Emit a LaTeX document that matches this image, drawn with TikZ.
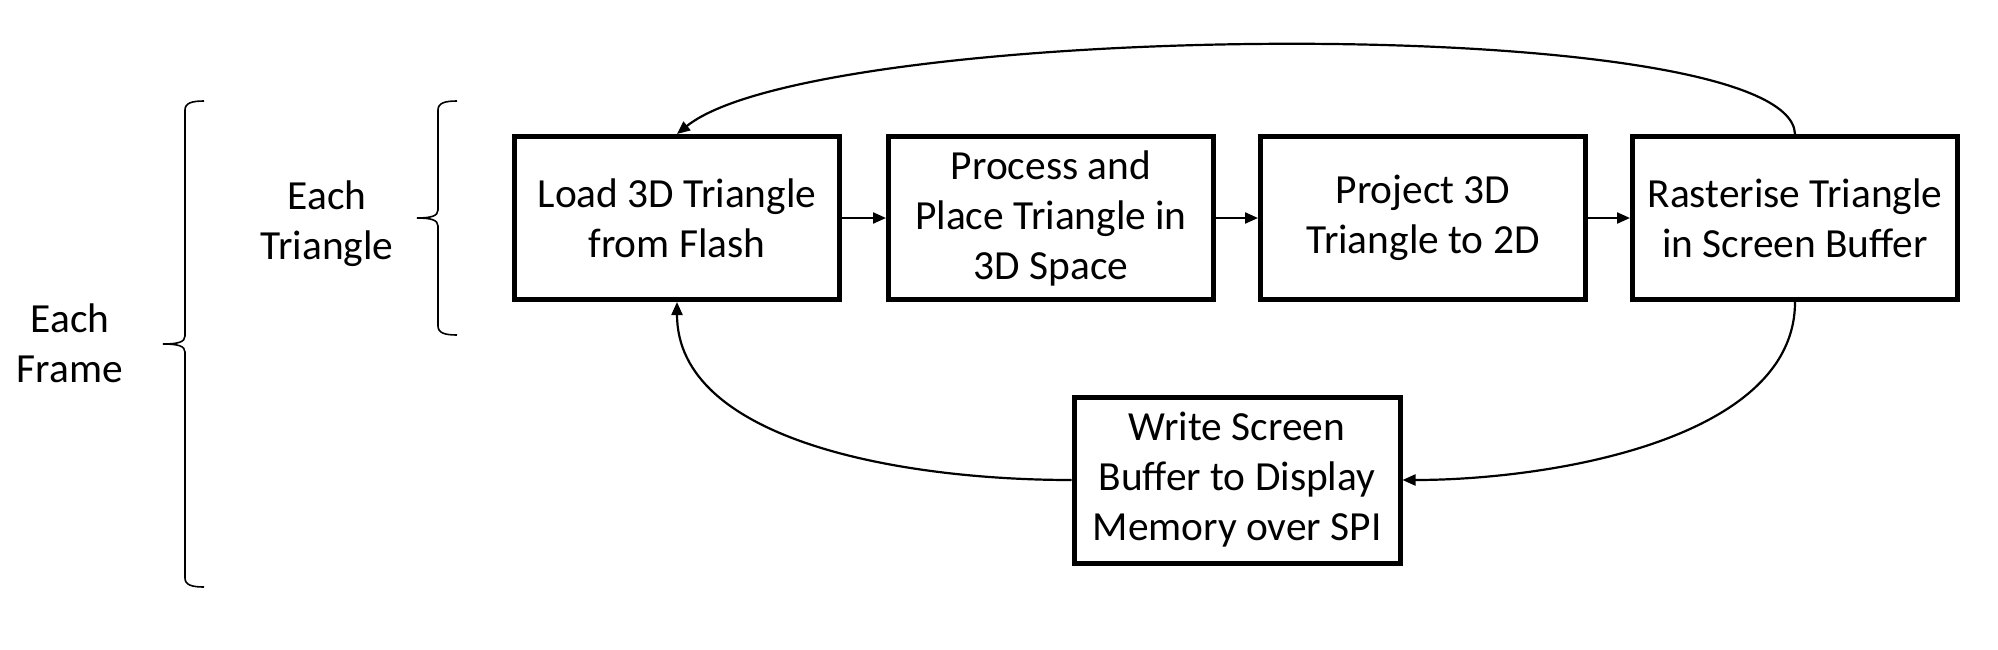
\documentclass[tikz,border=0pt]{standalone}
\usepackage{fontspec}
\setmainfont{Carlito}
\usetikzlibrary{arrows.meta}
\begin{document}
\begin{tikzpicture}[x=0.5pt,y=-0.5pt,
  txt/.style={font=\fontsize{20.7}{25}\selectfont},
  box/.style={txt,draw,line width=2.5pt,minimum width=162.5pt,minimum height=81.5pt,align=center,inner sep=0pt},
  lbl/.style={txt,align=center,inner sep=0pt},
  conn/.style={line width=1.1pt,-{Triangle[length=6.5pt,width=5.5pt]}},
  bracestyle/.style={line width=0.8pt}]
\fill[white] (0,0) rectangle (1998,649);
\useasboundingbox (0,0) rectangle (1998,649);

\node[box] (b1) at (677,218) {Load 3D Triangle\\from Flash};
\node[box] (b2) at (1051,218) {Process and\\Place Triangle in\\3D Space};
\node[box] (b3) at (1423,218) {Project 3D\\Triangle to 2D};
\node[box] (b4) at (1795,218) {Rasterise Triangle\\in Screen Buffer};
\node[box,minimum width=163pt,minimum height=83pt] (b5) at (1237,480) {Write Screen\\Buffer to Display\\Memory over SPI};

\node[lbl] (et) at (327,224) {Each\\Triangle};
\node[lbl] (ef) at (70,343) {Each\\Frame};

\draw[conn] (b1.east) -- (b2.west);
\draw[conn] (b2.east) -- (b3.west);
\draw[conn] (b3.east) -- (b4.west);
\draw[conn] (b4.north) .. controls +(-5,-124) and +(141,-114) .. (b1.north);
\draw[conn] (b4.south) .. controls +(0,138) and +(147,0) .. (b5.east);
\draw[conn] (b5.west) .. controls +(-172,0) and +(0,138) .. (b1.south);

% braces
\draw[bracestyle] (204,101) .. controls (192,101) and (185,103) .. (185,110) -- (185,336)
  .. controls (185,342) and (178,344) .. (163,344)
  .. controls (178,344) and (185,346) .. (185,352) -- (185,578)
  .. controls (185,585) and (192,587) .. (204,587);
\draw[bracestyle] (457,101) .. controls (445,101) and (438,103) .. (438,110) -- (438,210)
  .. controls (438,216) and (431,218) .. (417,218)
  .. controls (431,218) and (438,220) .. (438,226) -- (438,326)
  .. controls (438,333) and (445,335) .. (457,335);
\end{tikzpicture}
\end{document}
